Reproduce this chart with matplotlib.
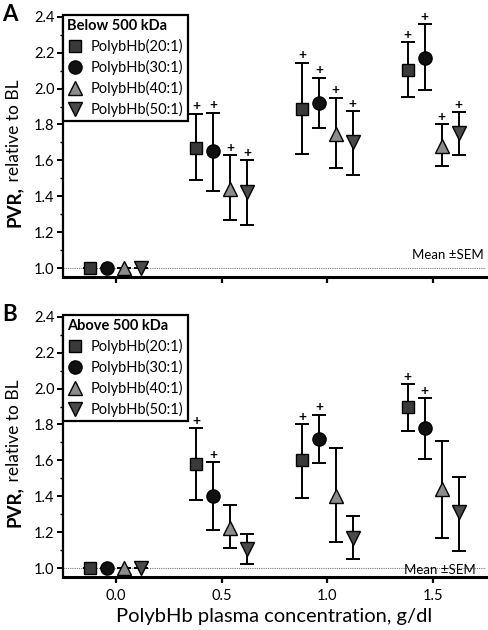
import matplotlib
matplotlib.use("Agg")
import matplotlib.pyplot as plt
import numpy as np
from matplotlib.lines import Line2D
from matplotlib.ticker import MultipleLocator

plt.rcParams['font.family'] = ['Lato', 'DejaVu Sans']

# ---- data ----
concentrations = [0.0, 0.5, 1.0, 1.5]
x_ticklabels = ["0.0", "0.5", "1.0", "1.5"]
series_names = ["PolybHb(20:1)", "PolybHb(30:1)", "PolybHb(40:1)", "PolybHb(50:1)"]

# Panel A: Below 500 kDa
a_mean_20 = [1.0, 1.67, 1.885, 2.105]
a_hi_20 = [1.0, 1.86, 2.145, 2.26]
a_lo_20 = [1.0, 1.49, 1.635, 1.955]
a_mean_30 = [1.0, 1.65, 1.92, 2.17]
a_hi_30 = [1.0, 1.865, 2.06, 2.36]
a_lo_30 = [1.0, 1.43, 1.78, 1.99]
a_mean_40 = [1.0, 1.44, 1.745, 1.68]
a_hi_40 = [1.0, 1.63, 1.95, 1.80]
a_lo_40 = [1.0, 1.265, 1.56, 1.57]
a_mean_50 = [1.0, 1.425, 1.70, 1.755]
a_hi_50 = [1.0, 1.60, 1.875, 1.87]
a_lo_50 = [1.0, 1.24, 1.52, 1.63]
a_sig_20 = [False, True, True, True]
a_sig_30 = [False, True, True, True]
a_sig_40 = [False, True, True, True]
a_sig_50 = [False, True, True, True]

# Panel B: Above 500 kDa
b_mean_20 = [1.0, 1.58, 1.60, 1.895]
b_hi_20 = [1.0, 1.78, 1.80, 2.025]
b_lo_20 = [1.0, 1.38, 1.39, 1.765]
b_mean_30 = [1.0, 1.40, 1.72, 1.78]
b_hi_30 = [1.0, 1.59, 1.855, 1.945]
b_lo_30 = [1.0, 1.21, 1.585, 1.61]
b_mean_40 = [1.0, 1.225, 1.40, 1.44]
b_hi_40 = [1.0, 1.35, 1.67, 1.71]
b_lo_40 = [1.0, 1.11, 1.145, 1.17]
b_mean_50 = [1.0, 1.105, 1.17, 1.31]
b_hi_50 = [1.0, 1.19, 1.29, 1.51]
b_lo_50 = [1.0, 1.025, 1.05, 1.095]
b_sig_20 = [False, True, True, True]
b_sig_30 = [False, True, True, True]
b_sig_40 = [False, False, False, False]
b_sig_50 = [False, False, False, False]

# ---- styles ----
offsets = [-0.12, -0.04, 0.04, 0.12]
markers = ['s', 'o', '^', 'v']
colors = ['#3a3a3a', '#111111', '#8c8c8c', '#4a4a4a']
msizes = [8.5, 9.5, 9.5, 9.5]

fig = plt.figure(figsize=(4.88, 6.30), dpi=100)
axA = fig.add_axes([63/488, 1-277/630, 423/488, 262/630])
axB = fig.add_axes([63/488, 1-577/630, 423/488, 262/630])

panels = [
    (axA, "Below 500 kDa",
     [a_mean_20, a_mean_30, a_mean_40, a_mean_50],
     [a_hi_20, a_hi_30, a_hi_40, a_hi_50],
     [a_lo_20, a_lo_30, a_lo_40, a_lo_50],
     [a_sig_20, a_sig_30, a_sig_40, a_sig_50], False),
    (axB, "Above 500 kDa",
     [b_mean_20, b_mean_30, b_mean_40, b_mean_50],
     [b_hi_20, b_hi_30, b_hi_40, b_hi_50],
     [b_lo_20, b_lo_30, b_lo_40, b_lo_50],
     [b_sig_20, b_sig_30, b_sig_40, b_sig_50], True),
]

for ax, title, means, his, los, sigs, show_xlabels in panels:
    ax.axhline(1.0, color='#777777', ls=(0, (1, 1)), lw=0.8, zorder=1)
    for i in range(4):
        x = np.array(concentrations) + offsets[i]
        m = np.array(means[i]); hi = np.array(his[i]); lo = np.array(los[i])
        ax.errorbar(x, m, yerr=[m - lo, hi - m], fmt='none', ecolor='black',
                    elinewidth=1.4, capsize=5, capthick=1.4, zorder=2)
        ax.plot(x, m, linestyle='none', marker=markers[i], ms=msizes[i],
                mfc=colors[i], mec='black', mew=1.0, zorder=3)
        for xi, hv, s in zip(x, hi, sigs[i]):
            if s:
                ax.annotate('+', xy=(xi, hv), xytext=(0, 1), textcoords='offset points',
                            ha='center', va='bottom', fontsize=10, fontweight='bold')
    ax.set_xlim(-0.25, 1.75)
    ax.set_ylim(0.95, 2.41)
    ax.set_xticks(concentrations)
    if show_xlabels:
        ax.set_xticklabels(x_ticklabels, fontsize=10.5)
    else:
        ax.set_xticklabels([])
    ax.set_yticks([1.0, 1.2, 1.4, 1.6, 1.8, 2.0, 2.2, 2.4])
    ax.set_yticklabels(["1.0", "1.2", "1.4", "1.6", "1.8", "2.0", "2.2", "2.4"], fontsize=10.5)
    ax.yaxis.set_minor_locator(MultipleLocator(0.1))
    ax.spines['top'].set_visible(False)
    ax.spines['right'].set_visible(False)
    ax.spines['left'].set_linewidth(1.6)
    ax.spines['bottom'].set_linewidth(2.2)
    ax.spines['left'].set_bounds(0.95, 2.4)
    ax.tick_params(axis='both', which='major', length=4, width=1.4, pad=2, colors='black')
    ax.tick_params(axis='y', which='minor', length=2.5, width=1.0)
    ax.tick_params(axis='x', which='major', length=4, width=1.6, pad=5)

    handles = [Line2D([], [], linestyle='none', marker=markers[i], ms=msizes[i],
                      mfc=colors[i], mec='black', mew=1.0) for i in range(4)]
    leg = ax.legend(handles, series_names, loc='upper left', bbox_to_anchor=(0.0, 1.0),
                    borderaxespad=0.0, fontsize=10.5, title=title, alignment='left',
                    frameon=True, fancybox=False, handlelength=1.0, handletextpad=0.6,
                    labelspacing=0.4, borderpad=0.3)
    leg.get_title().set_fontweight('bold')
    leg.get_title().set_fontsize(10.5)
    leg.get_frame().set_edgecolor('black')
    leg.get_frame().set_linewidth(1.6)
    leg.get_frame().set_alpha(1)

    # y label: bold "PVR," + normal " relative to BL"
    t1 = ax.text(-0.115, 0.27, "PVR,", transform=ax.transAxes, rotation=90,
                 ha='center', va='center', fontsize=13.5, fontweight='bold')
    ax.annotate(" relative to BL", xy=(0.5, 1.0), xycoords=t1, ha='center', va='bottom',
                rotation=90, fontsize=12.5)

axA.text(0.995, 0.06, "Mean \u00b1SEM", transform=axA.transAxes, ha='right', va='bottom', fontsize=9.5)
axB.text(0.975, 0.005, "Mean \u00b1SEM", transform=axB.transAxes, ha='right', va='bottom', fontsize=9.5)

axB.set_xlabel("PolybHb plasma concentration, g/dl", fontsize=14.5, labelpad=3)

fig.text(2/488, 1-4/630, "A", ha='left', va='top', fontsize=16, fontweight='bold')
fig.text(2/488, 1-304/630, "B", ha='left', va='top', fontsize=16, fontweight='bold')

fig.savefig("out.png", dpi=100)
